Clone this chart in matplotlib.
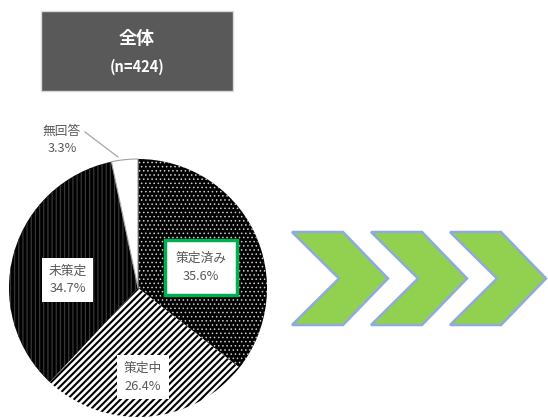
import matplotlib
matplotlib.use('Agg')
import matplotlib.pyplot as plt
from matplotlib.patches import Rectangle, Polygon

plt.rcParams['font.family'] = ['Noto Sans CJK JP', 'DejaVu Sans']
plt.rcParams['hatch.linewidth'] = 1.5

# data
labels = ['策定済み', '策定中', '未策定', '無回答']
shares = [35.6, 26.4, 34.7, 3.3]
title = '全体'
sample = '(n=424)'

W, H = 548, 418


def py(y):
    # picture y (top down) -> axes y
    return H - y


fig = plt.figure(figsize=(W / 100, H / 100), dpi=100)
ax = fig.add_axes([0, 0, 1, 1])

# pie, clockwise from 12 o'clock
wedges, _ = ax.pie(shares, startangle=90, counterclock=False,
                   center=(138, py(288)), radius=129, frame=True,
                   wedgeprops=dict(linewidth=0))
faces = ['black', 'white', 'black', 'white']
hatch_cols = ['#cfcfcf', 'black', '#363636', '#a0a0a0']
hatches = ['....', '/////', '||||', '']
hatch_lws = [0.6, 1.5, 0.9, 1.0]
for w, fc, hc, h, hl in zip(wedges, faces, hatch_cols, hatches, hatch_lws):
    w.set_facecolor(fc)
    w.set_edgecolor(hc)
    w.set_hatch(h)
    if hasattr(w, 'set_hatch_linewidth'):
        w.set_hatch_linewidth(hl)
wedges[3].set_linewidth(0.8)

ax.set_xlim(0, W)
ax.set_ylim(0, H)
ax.set_aspect('equal')
ax.axis('off')

# label boxes: (x0, y0, w, h) in picture pixels
boxes = [(165, 240, 72, 55), (117, 355, 52, 44), (42, 258, 51, 44)]
txt_col = '#595959'
for i, (x0, y0, bw, bh) in enumerate(boxes):
    ec = '#00B050' if i == 0 else 'none'
    ax.add_patch(Rectangle((x0, py(y0 + bh)), bw, bh, facecolor='white',
                           edgecolor=ec, linewidth=2.5, zorder=3))
    ax.text(x0 + bw / 2, py(y0 + bh / 2), f'{labels[i]}\n{shares[i]}%',
            ha='center', va='center', fontsize=9.2, color=txt_col,
            linespacing=1.5, zorder=4)

# no-answer label with leader line
ax.text(62, py(140), f'{labels[3]}\n{shares[3]}%', ha='center', va='center',
        fontsize=9.2, color=txt_col, linespacing=1.5)
ax.plot([85, 118], [py(132), py(157)], color='#a6a6a6', lw=0.9)

# header box
ax.add_patch(Rectangle((41, py(91)), 192, 80, facecolor='#595959',
                       edgecolor='#d9d9d9', linewidth=1))
ax.text(137, py(38), title, ha='center', va='center', fontsize=13,
        fontweight='bold', color='white')
ax.text(137, py(67), sample, ha='center', va='center', fontsize=10.5,
        fontweight='bold', color='white')

# chevron arrows
yt, ym, yb = py(232), py(278.5), py(325)
for x0 in [292, 371, 450]:
    pts = [(x0, yt), (x0 + 51, yt), (x0 + 96, ym), (x0 + 51, yb),
           (x0, yb), (x0 + 47, ym)]
    ax.add_patch(Polygon(pts, closed=True, facecolor='#92D050',
                         edgecolor='#8FAADC', linewidth=1.8))

fig.savefig('out.png', dpi=100)
